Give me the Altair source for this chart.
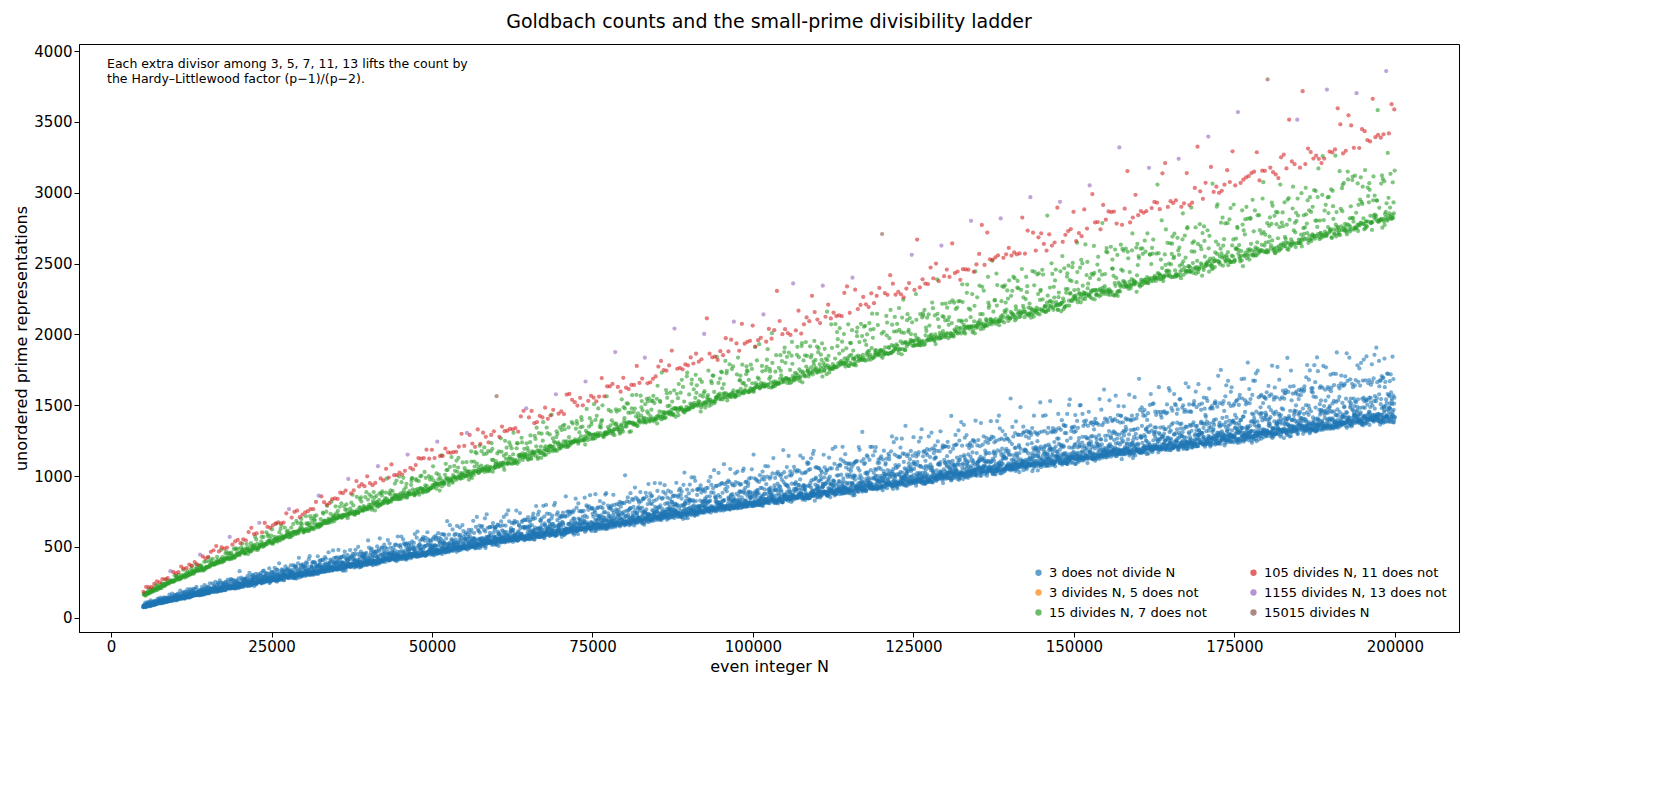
import numpy as np
import pandas as pd
import altair as alt

# even integers sampled every 20 from 5000 to 200000
n_start, n_stop, n_step = 5000, 200000, 20

labels = ["3 does not divide N", "3 divides N, 5 does not", "15 divides N, 7 does not",
          "105 divides N, 11 does not", "1155 divides N, 13 does not", "15015 divides N"]
colors = ["#1f77b4", "#ff7f0e", "#2ca02c", "#d62728", "#9467bd", "#8c564b"]

# Goldbach counts: unordered representations N = p + q
sieve = np.ones(n_stop + 1, dtype=bool)
sieve[:2] = False
for i in range(2, int(n_stop ** 0.5) + 1):
    if sieve[i]:
        sieve[i * i::i] = False
primes = np.nonzero(sieve)[0]

ns = np.arange(n_start, n_stop + 1, n_step)
counts = []
for n in ns:
    p = primes[primes <= n // 2]
    counts.append(int(sieve[n - p].sum()))

def group(n):
    if n % 3:
        return labels[0]
    if n % 5:
        return labels[2]   # drawn in the green of the next class, as in the source
    if n % 7:
        return labels[2]
    if n % 11:
        return labels[3]
    if n % 13:
        return labels[4]
    return labels[5]

df = pd.DataFrame({"N": ns, "count": counts, "group": [group(n) for n in ns]})
rank = {l: i for i, l in enumerate(labels)}
df["order"] = df["group"].map(rank)

points = alt.Chart(df).mark_circle(size=18, opacity=0.6).encode(
    x=alt.X("N:Q", title="even integer N",
            scale=alt.Scale(domain=[-5000, 210000], nice=False),
            axis=alt.Axis(values=list(range(0, 200001, 25000)), grid=False, format="d")),
    y=alt.Y("count:Q", title="unordered prime representations",
            scale=alt.Scale(domain=[-100, 4050], nice=False),
            axis=alt.Axis(values=list(range(0, 4001, 500)), grid=False, format="d")),
    color=alt.Color("group:N", scale=alt.Scale(domain=labels, range=colors),
                    legend=alt.Legend(title=None, orient="bottom-right", columns=2,
                                      labelFontSize=13, symbolSize=40, columnPadding=40,
                                      rowPadding=6, symbolOpacity=0.7, offset=12,
                                      labelLimit=400)),
    order=alt.Order("order:Q"),
)

note = alt.Chart(pd.DataFrame({"t": [["Each extra divisor among 3, 5, 7, 11, 13 lifts the count by",
                                      "the Hardy\u2013Littlewood factor (p\u22121)/(p\u22122)."]]})).mark_text(
    align="left", baseline="top", fontSize=12.5, lineHeight=15
).encode(x=alt.value(28), y=alt.value(14), text="t")

chart = (points + note).properties(
    width=1380, height=588,
    title=alt.Title("Goldbach counts and the small-prime divisibility ladder", fontSize=19,
                    fontWeight="normal", offset=12),
).configure(
    font="DejaVu Sans"
).configure_axis(
    labelFontSize=15, titleFontSize=16, titleFontWeight="normal", domainColor="black",
    tickColor="black", labelColor="black", titleColor="black",
).configure_view(stroke="black")

chart.save("out.html", embed_options={"renderer": "svg", "actions": False})
